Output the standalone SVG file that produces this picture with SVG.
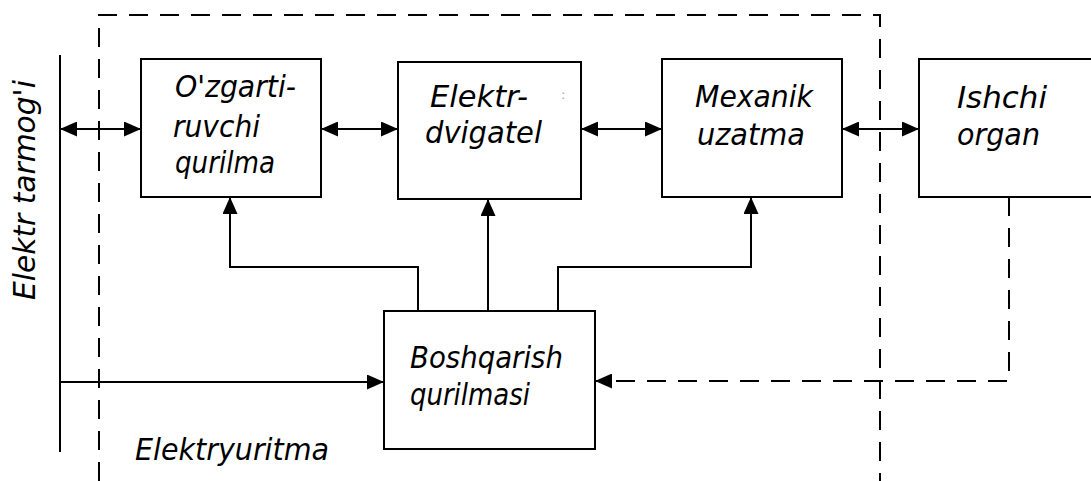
<svg xmlns="http://www.w3.org/2000/svg" width="1091" height="481" viewBox="0 0 1091 481">
<style>
.box{fill:#fff;stroke:#000;stroke-width:2}
.ln{fill:none;stroke:#000;stroke-width:2}
.dash{fill:none;stroke:#000;stroke-width:2;stroke-dasharray:19 12}
.t{font-family:"DejaVu Sans","Liberation Sans",sans-serif;font-style:italic;font-size:30px;fill:#000}
</style>
<defs>
<marker id="ah" markerUnits="userSpaceOnUse" viewBox="0 0 17 15" markerWidth="17" markerHeight="15" refX="17" refY="7.5" orient="auto-start-reverse">
<path d="M0,0 L17,7.5 L0,15 z" fill="#000"/>
</marker>
</defs>
<rect width="1091" height="481" fill="#fff"/>
<g id="enclosure">
<path class="dash" d="M99,481 V15 H880 V481"/>
<text class="t" x="135" y="460" textLength="194" lengthAdjust="spacingAndGlyphs">Elektryuritma</text>
</g>
<g id="bus">
<line class="ln" x1="60" y1="55" x2="60" y2="452"/>
<text class="t" transform="translate(35,300) rotate(-90)" textLength="220" lengthAdjust="spacingAndGlyphs">Elektr tarmog'i</text>
</g>
<g id="connectors">
<line class="ln" x1="60" y1="129" x2="141" y2="129" marker-start="url(#ah)" marker-end="url(#ah)"/>
<line class="ln" x1="321" y1="129" x2="398" y2="129" marker-start="url(#ah)" marker-end="url(#ah)"/>
<line class="ln" x1="581" y1="129" x2="662" y2="129" marker-start="url(#ah)" marker-end="url(#ah)"/>
<line class="ln" x1="842" y1="129" x2="919" y2="129" marker-start="url(#ah)" marker-end="url(#ah)"/>
<polyline class="ln" points="418,311 418,267 230,267 230,197" marker-end="url(#ah)"/>
<line class="ln" x1="488" y1="311" x2="488" y2="199" marker-end="url(#ah)"/>
<polyline class="ln" points="558,311 558,267 751,267 751,197" marker-end="url(#ah)"/>
<line class="ln" x1="60" y1="382" x2="384" y2="382" marker-end="url(#ah)"/>
<polyline class="dash" points="1009,197 1009,381 595,381" marker-end="url(#ah)"/>
</g>
<g id="node-ozgartiruvchi">
<rect class="box" x="141" y="59" width="180" height="138"/>
<text class="t" x="175" y="97" textLength="121" lengthAdjust="spacingAndGlyphs">O'zgarti-</text>
<text class="t" x="173" y="137" textLength="87" lengthAdjust="spacingAndGlyphs">ruvchi</text>
<text class="t" x="175" y="173" textLength="100" lengthAdjust="spacingAndGlyphs">qurilma</text>
</g>
<g id="node-elektrdvigatel">
<rect class="box" x="398" y="62" width="183" height="137"/>
<text class="t" x="430" y="107" textLength="98" lengthAdjust="spacingAndGlyphs">Elektr-</text>
<text class="t" x="425" y="143" textLength="117" lengthAdjust="spacingAndGlyphs">dvigatel</text>
<text x="561" y="99" font-family="DejaVu Sans, sans-serif" font-size="13" fill="#aaa">:</text>
</g>
<g id="node-mexanik">
<rect class="box" x="662" y="59" width="180" height="138"/>
<text class="t" x="695" y="107" textLength="118" lengthAdjust="spacingAndGlyphs">Mexanik</text>
<text class="t" x="697" y="145" textLength="108" lengthAdjust="spacingAndGlyphs">uzatma</text>
</g>
<g id="node-ishchi">
<rect class="box" x="919" y="59" width="190" height="138"/>
<text class="t" x="957" y="108" textLength="90" lengthAdjust="spacingAndGlyphs">Ishchi</text>
<text class="t" x="957" y="145" textLength="83" lengthAdjust="spacingAndGlyphs">organ</text>
</g>
<g id="node-boshqarish">
<rect class="box" x="384" y="311" width="211" height="138"/>
<text class="t" x="410" y="368" textLength="153" lengthAdjust="spacingAndGlyphs">Boshqarish</text>
<text class="t" x="410" y="405" textLength="120" lengthAdjust="spacingAndGlyphs">qurilmasi</text>
</g>
</svg>
